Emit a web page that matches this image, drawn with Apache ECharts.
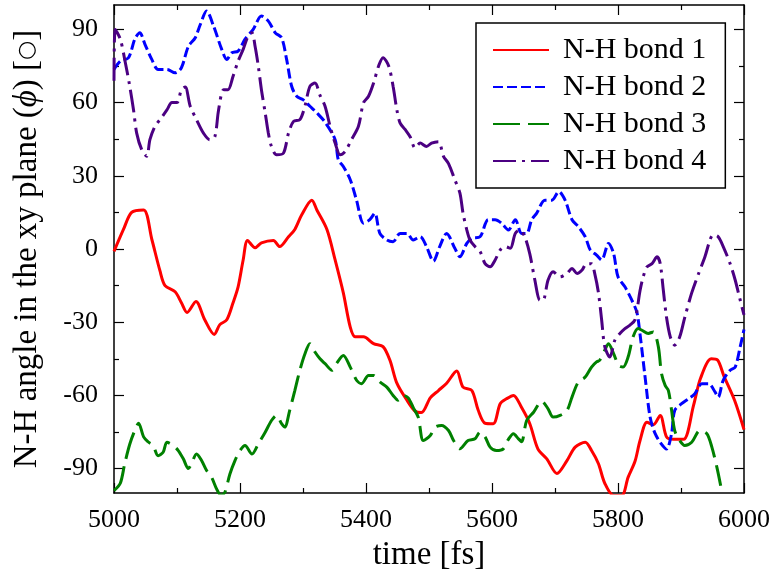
<!DOCTYPE html>
<html>
<head>
<meta charset="utf-8">
<script src="https://cdn.jsdelivr.net/npm/echarts@6/dist/echarts.min.js"></script>
<style>
  html, body { margin: 0; padding: 0; background: #fff; }
  #chart { width: 774px; height: 581px; }
</style>
</head>
<body>
<div id="chart"></div>
<script>
// N-H bond orientation in the xy plane over a 1 ps window of the trajectory.

const seriesNames = ['N-H bond 1', 'N-H bond 2', 'N-H bond 3', 'N-H bond 4'];

// Tick positions of the angle axis (degrees)
const angleMajorTicks = [-90, -60, -30, 0, 30, 60, 90];
const angleMinorTicks = [-75, -45, -15, 15, 45, 75];

// Time axis (fs)
const timeMin = 5000;
const timeMax = 6000;
const timeStep = 200;

// Bond 1
const bond1Time = [5000,5015,5028,5047,5060,5073,5081,5097,5107,5116,5130,5144,5159,5168,5179,5189,5197,5205,5212,5224,5234,5253,5263,5277,5287,5298,5314,5322,5338,5351,5364,5375,5383,5396,5412,5427,5438,5449,5465,5478,5488,5502,5515,5528,5544,5554,5568,5578,5589,5602,5613,5623,5634,5647,5660,5673,5687,5703,5719,5732,5748,5758,5769,5779,5793,5806,5816,5827,5835,5846,5856,5867,5877,5888,5904,5920,5931,5948,5958,5968,5985,6000];
const bond1Angle = [-1,8,15,16,4,-9,-15,-17.5,-22,-26,-21.5,-29,-35,-31,-29,-22,-15.5,-4.5,3.5,0.5,2.5,3.5,1,5,8,14,20,16,8,-4.5,-18,-32,-36,-36,-38.8,-40,-45.6,-55,-62,-66.5,-67,-61,-58,-55,-50,-56.6,-58,-66,-71.4,-71.6,-63.4,-61.4,-60,-65,-71.6,-82,-86,-92,-86.7,-81.2,-79.2,-82.6,-88,-96,-101,-101,-93.6,-87,-78.5,-71,-72,-68.2,-77,-78,-78,-64,-53,-45,-45.5,-52,-62,-74];

// Bond 2
const bond2Time = [5000,5010,5023,5033,5041,5049,5060,5070,5084,5097,5107,5118,5129,5137,5147,5158,5171,5179,5187,5197,5208,5221,5234,5245,5256,5266,5274,5282,5290,5300,5311,5322,5335,5351,5356,5364,5375,5385,5396,5406,5414,5422,5433,5443,5454,5465,5475,5486,5496,5507,5517,5528,5541,5549,5560,5568,5581,5594,5605,5615,5626,5637,5647,5655,5663,5671,5684,5695,5706,5716,5727,5737,5748,5756,5766,5774,5785,5793,5800,5811,5822,5830,5835,5843,5851,5859,5869,5877,5885,5890,5901,5912,5922,5933,5944,5954,5959,5967,5978,5986,5994,6000];
const bond2Angle = [73.6,77,78.4,86,88.6,84,77.7,73.6,73.6,72.2,74.3,83,86.6,92,97.5,91.4,81.8,77.7,80.4,81.1,86,90,95.5,93.4,88.6,86.6,77.7,66.7,62.6,61.2,58.5,55.8,52,44.8,36.6,33.8,28.4,20,10.6,12,14.7,6.4,3.7,3,6.4,6.4,3.7,5,1,-5,1,6.4,0.3,-3.2,2.3,4.4,5,12,12,10.6,7.8,12,6.4,6.4,12,14.7,20,20,23.5,20,12,9.2,5,-0.4,-2.5,-4.5,2.3,-1.8,-11.4,-15.5,-21,-26,-35,-52.5,-69,-75.7,-80,-82,-75.7,-66.2,-63.4,-61.4,-59.3,-55.2,-55.2,-58.6,-60.7,-53.8,-49.7,-48.4,-40,-33];

// Bond 3
const bond3Time = [5000,5010,5017,5025,5033,5039,5047,5054,5062,5070,5078,5084,5094,5102,5110,5118,5123,5131,5139,5147,5155,5163,5170,5176,5184,5192,5200,5208,5219,5229,5240,5250,5258,5266,5271,5279,5287,5295,5303,5311,5319,5327,5335,5346,5353,5364,5375,5385,5393,5404,5412,5422,5433,5443,5451,5459,5467,5475,5483,5491,5502,5510,5520,5531,5539,5549,5562,5573,5581,5589,5597,5607,5618,5626,5634,5642,5647,5655,5666,5679,5689,5697,5708,5719,5727,5737,5748,5758,5766,5771,5779,5785,5793,5801,5808,5816,5824,5832,5838,5848,5856,5864,5869,5875,5880,5885,5890,5898,5906,5917,5930,5941,5949,5957,5963];
const bond3Angle = [-99,-96,-88,-80,-74.4,-71.4,-77,-79,-80.5,-84.7,-83.3,-79.2,-80.5,-82.6,-86,-90,-88,-84,-86.7,-90.8,-93.6,-98.4,-101,-99.7,-92.2,-86.7,-82.6,-80.5,-84,-79.9,-75.1,-70.3,-68.2,-71.6,-73,-66,-58,-49.7,-43,-38.8,-42.2,-45,-47,-49.7,-47,-43.6,-48.4,-53.8,-55.2,-51.8,-51.8,-54.5,-56.6,-60,-62,-60,-61,-65,-69,-78.5,-76.4,-73,-72.3,-74.4,-78.5,-81.9,-78.5,-77.8,-75.1,-77,-81.2,-82.6,-81.9,-78,-75.7,-77.8,-79,-70.3,-66.9,-62.4,-65.5,-68.9,-68.2,-66.2,-60.7,-54.5,-52.5,-48.4,-46.3,-45.6,-41.5,-38.8,-42.9,-47.7,-48.4,-44.3,-36,-32.6,-33.3,-34.6,-34,-40,-51,-56,-58,-66,-74.4,-78.5,-80.5,-79.2,-74.4,-75.7,-81.2,-89.5,-97];

// Bond 4
const bond4Time = [5000,5002,5010,5017,5025,5031,5036,5044,5052,5057,5065,5073,5084,5092,5100,5107,5113,5121,5131,5142,5152,5160,5166,5174,5181,5189,5197,5205,5213,5219,5224,5229,5234,5240,5245,5250,5258,5269,5277,5285,5295,5303,5311,5319,5327,5335,5343,5351,5359,5367,5377,5388,5396,5404,5412,5420,5427,5436,5443,5449,5454,5462,5470,5478,5486,5496,5504,5515,5523,5531,5541,5549,5554,5560,5565,5573,5581,5589,5597,5605,5613,5621,5629,5637,5644,5652,5660,5668,5676,5681,5689,5697,5708,5719,5727,5735,5743,5750,5758,5763,5769,5774,5779,5787,5795,5803,5811,5819,5827,5835,5840,5846,5854,5862,5867,5872,5877,5883,5890,5898,5906,5917,5928,5938,5946,5951,5959,5967,5978,5986,5994,6000];
const bond4Angle = [69,90,86,77.7,66.7,57,47.5,40.7,38,44.8,50.3,53,57,60,60,65.3,66.4,58.5,53,47.5,44.8,46,57,65.3,65.3,70.8,77,81.8,87.3,88.6,83,75,65.3,55.8,47.5,42,38.6,39.3,47.5,52.3,53,58.5,66.7,68,63,58.5,50.3,43.4,38.6,40,44.8,50.3,59.9,62.6,68,75,78.4,75,66.7,57,51.7,49,46,41.4,43.4,42,43.4,44,38,35,28.4,23,14.7,7.8,3.7,1,-1,-6,-7.3,-4.5,-0.4,1,0.3,6.4,7.8,5,-2,-12.7,-21,-21,-12.7,-9.3,-11.4,-10,-8,-10,-8.6,-6,-6,-10,-18,-29,-40,-44.3,-37.4,-34.6,-32.6,-31.2,-29,-17,-11.4,-7.3,-6,-3.2,-6,-17,-28,-36,-39.4,-36,-28,-18,-10,-3.2,3.7,5.8,5,1,-6,-12.7,-21,-27];

const FONT = '"Liberation Serif", "Times New Roman", Times, serif';
const BLACK = '#000';

function pairs(t, v) {
  return t.map((x, i) => [x, v[i]]);
}

const frameLine = { show: true, onZero: false, lineStyle: { color: BLACK, width: 1.5 } };
const tickLine = { color: BLACK, width: 1.2 };
const plainNumber = v => String(v);

function timeAxis(position, withLabels) {
  return {
    type: 'value',
    position: position,
    min: timeMin,
    max: timeMax,
    interval: timeStep,
    axisLine: frameLine,
    axisTick: { show: true, inside: true, length: 10, lineStyle: tickLine },
    minorTick: { show: true, splitNumber: 2, length: 5, lineStyle: tickLine },
    axisLabel: withLabels
      ? { show: true, color: BLACK, fontFamily: FONT, fontSize: 26, margin: 14, formatter: plainNumber }
      : { show: false },
    splitLine: { show: false },
    minorSplitLine: { show: false }
  };
}

function angleAxis(position, ticks, tickLen, showLine, withLabels) {
  return {
    type: 'value',
    position: position,
    min: -100,
    max: 100,
    axisLine: showLine ? frameLine : { show: false, onZero: false },
    axisTick: { show: true, inside: true, length: tickLen, customValues: ticks, lineStyle: tickLine },
    axisLabel: withLabels
      ? { show: true, customValues: ticks, color: BLACK, fontFamily: FONT, fontSize: 26, margin: 16, formatter: plainNumber }
      : { show: false },
    splitLine: { show: false }
  };
}

const xBottom = timeAxis('bottom', true);
xBottom.name = 'time [fs]';
xBottom.nameLocation = 'middle';
xBottom.nameGap = 46;
xBottom.nameTextStyle = { color: BLACK, fontFamily: FONT, fontSize: 33 };

const yLeft = angleAxis('left', angleMajorTicks, 10, true, true);
yLeft.name = 'N-H angle in the xy plane ({i|ϕ}) [{c|○}]';
yLeft.nameLocation = 'middle';
yLeft.nameRotate = 90;
yLeft.nameGap = 70;
yLeft.nameTextStyle = {
  color: BLACK, fontFamily: FONT, fontSize: 33,
  rich: {
    i: { fontFamily: FONT, fontStyle: 'italic', fontSize: 33, color: BLACK },
    c: { fontFamily: '"DejaVu Sans", sans-serif', fontSize: 22, color: BLACK }
  }
};

const lineStyles = [
  { color: '#ff0000', width: 3, type: 'solid' },
  { color: '#0000ff', width: 3, type: [10, 4] },
  { color: '#008000', width: 3, type: [27, 8] },
  { color: '#4b0082', width: 3, type: [23, 6, 3, 6] }
];
const seriesData = [
  pairs(bond1Time, bond1Angle),
  pairs(bond2Time, bond2Angle),
  pairs(bond3Time, bond3Angle),
  pairs(bond4Time, bond4Angle)
];

const option = {
  backgroundColor: '#fff',
  animation: false,
  grid: { left: 114, right: 30, top: 5, bottom: 88, containLabel: false },
  xAxis: [xBottom, timeAxis('top', false)],
  yAxis: [
    yLeft,
    angleAxis('left', angleMinorTicks, 5, false, false),
    angleAxis('right', angleMajorTicks, 10, true, false),
    angleAxis('right', angleMinorTicks, 5, false, false)
  ],
  legend: {
    orient: 'vertical',
    left: 476,
    top: 23,
    selectedMode: false,
    borderColor: BLACK,
    borderWidth: 1.5,
    borderRadius: 0,
    padding: [12, 19, 12, 16],
    itemWidth: 56,
    itemHeight: 14,
    itemGap: 7,
    itemStyle: { opacity: 0 },
    textStyle: { fontFamily: FONT, fontSize: 30, color: BLACK, lineHeight: 30, padding: [0, 0, 0, 9] },
    data: seriesNames
  },
  series: seriesNames.map((name, i) => ({
    name: name,
    type: 'line',
    xAxisIndex: 0,
    yAxisIndex: 0,
    data: seriesData[i],
    showSymbol: false,
    symbol: 'none',
    smooth: 0.3,
    clip: true,
    lineStyle: lineStyles[i],
    itemStyle: { color: lineStyles[i].color },
    emphasis: { disabled: true }
  }))
};

const chart = echarts.init(document.getElementById('chart'), null, { renderer: 'canvas' });
chart.setOption(option);
</script>
</body>
</html>
